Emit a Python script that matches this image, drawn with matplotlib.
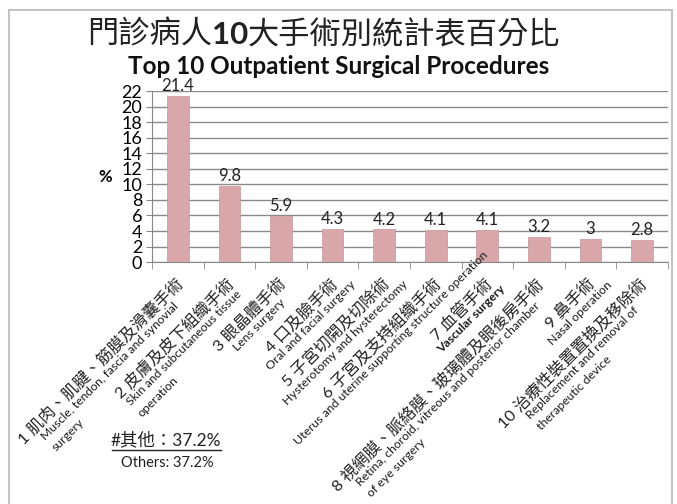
"""
Top 10 outpatient surgical procedures, share of total (%).
"""
import matplotlib
matplotlib.use("Agg")
import matplotlib.pyplot as plt
from matplotlib.patches import Rectangle
import numpy as np

plt.rcParams["font.family"] = ["Lato", "Noto Sans CJK TC", "DejaVu Sans"]

# ── Data ──────────────────────────────────────────────────────────────────────
ranks = ["1", "2", "3", "4", "5", "6", "7", "8", "9", "10"]
names_zh = ["肌肉、肌腱、筋膜及滑囊手術", "皮膚及皮下組織手術", "眼晶體手術",
            "口及臉手術", "子宮切開及切除術", "子宮及支持組織手術", "血管手術",
            "視網膜、脈絡膜、玻璃體及眼後房手術", "鼻手術", "治療性裝置置換及移除術"]
names_en = [["Muscle, tendon, fascia and synovial", "surgery"],
            ["Skin and subcutaneous tissue", "operation"],
            ["Lens surgery"],
            ["Oral and facial surgery"],
            ["Hysterotomy and hysterectomy"],
            ["Uterus and uterine supporting structure operation"],
            ["Vascular surgery"],
            ["Retina, choroid, vitreous and posterior chamber", "of eye surgery"],
            ["Nasal operation"],
            ["Replacement and removal of", "therapeutic device"]]
en_bold = [False, False, False, False, False, False, True, False, False, False]
percent = [21.4, 9.8, 5.9, 4.3, 4.2, 4.1, 4.1, 3.2, 3, 2.8]
others_pct = 37.2

# ── Plot ──────────────────────────────────────────────────────────────────────
fig = plt.figure(figsize=(6.77, 5.04), dpi=100)
ax = fig.add_axes([0.2245, 0.48, 0.762, 0.339])

x = np.arange(len(percent))
ax.bar(x, percent, width=0.42, color="#d9a7aa", edgecolor="#c99598",
       linewidth=0.5, zorder=3)

for xi, v in zip(x, percent):
    ax.text(xi, v + 0.25, f"{v:g}", ha="center", va="bottom",
            fontsize=12, color="#222")

ax.set_xlim(-0.5, len(percent) - 0.5)
ax.set_ylim(0, 22)
ax.set_yticks(range(0, 23, 2))
ax.tick_params(axis="y", labelsize=13, length=4, color="#888", pad=3)
ax.set_xticks([])
ax.set_xticks(np.arange(-0.5, len(percent)), minor=True)
ax.tick_params(axis="x", which="minor", length=5, color="#888")
ax.yaxis.grid(True, color="#8a8a8a", linewidth=1.0, zorder=0)
ax.set_axisbelow(True)

for s in ["top", "right"]:
    ax.spines[s].set_visible(False)
for s in ["left", "bottom"]:
    ax.spines[s].set_color("#888")

ax.set_ylabel("%", rotation=0, fontsize=12, fontweight="bold",
              labelpad=12, va="center")

# ── Rotated category labels ──────────────────────────────────────────────────
# Chinese line ends at the tick; the English paragraph (left aligned lines)
# is centred under it
renderer = fig.canvas.get_renderer()
to_fig = fig.transFigure.inverted()
u = np.array([np.cos(np.pi / 4), np.sin(np.pi / 4)])     # along the text
n = np.array([np.sin(np.pi / 4), -np.cos(np.pi / 4)])    # to the next line
zh_size, en_size = 11.8, 8.8


def text_width(s, size, weight="normal"):
    t = fig.text(0, 0, s, fontsize=size, fontweight=weight)
    w = t.get_window_extent(renderer).width
    t.remove()
    return w


for xi, r, zh, en, bold in zip(x, ranks, names_zh, names_en, en_bold):
    weight = "bold" if bold else "normal"
    zh_line = f"{r} {zh}"
    w_zh = text_width(zh_line, zh_size)
    w_en = max(text_width(e, en_size, weight) for e in en)
    px, py = ax.transData.transform((xi, 0))
    end = np.array([px - 3, py - 14])
    pos = to_fig.transform(end)
    fig.text(pos[0], pos[1], zh_line, fontsize=zh_size, color="#222",
             rotation=45, rotation_mode="anchor", ha="right", va="top")
    start = end - u * (w_zh + w_en) / 2
    for k, e in enumerate(en):
        pos = to_fig.transform(start + n * (16 + 15.5 * k))
        fig.text(pos[0], pos[1], e, fontsize=en_size, color="#1a1a1a",
                 fontweight=weight, rotation=45, rotation_mode="anchor",
                 ha="left", va="top")

# ── Titles ───────────────────────────────────────────────────────────────────
title_parts = [("門診病人", "normal"), ("10", "bold"), ("大手術別統計表百分比", "normal")]
title_size = 22.5
widths = [text_width(s, title_size, wt) for s, wt in title_parts]
cursor = fig.bbox.width / 2 - sum(widths) / 2 - 15
for (s, wt), w in zip(title_parts, widths):
    fx, fy = to_fig.transform((cursor, fig.bbox.height - 44))
    fig.text(fx, fy, s, fontsize=title_size, fontweight=wt, color="#222",
             ha="left", va="baseline")
    cursor += w

fig.text(0.5, 0.868, "Top 10 Outpatient Surgical Procedures", ha="center",
         va="center", fontsize=17.5, fontweight="bold", color="#111")

# ── Others note ──────────────────────────────────────────────────────────────
fig.text(0.245, 0.127, f"#其他：{others_pct}%", ha="center", va="center",
         fontsize=12.5, color="#222")
fig.add_artist(plt.Line2D([0.165, 0.326], [0.107, 0.107], color="#222",
                          linewidth=1.0, transform=fig.transFigure))
fig.text(0.247, 0.081, f"Others: {others_pct}%", ha="center", va="center",
         fontsize=10.5, color="#222")

# Outer frame (open at the bottom, as in the cropped original)
fig.add_artist(Rectangle((0.0135, -0.02), 0.979, 1.0, fill=False,
                         edgecolor="#c4c4c4", linewidth=1.5,
                         transform=fig.transFigure))

fig.savefig("out.png", dpi=100)
